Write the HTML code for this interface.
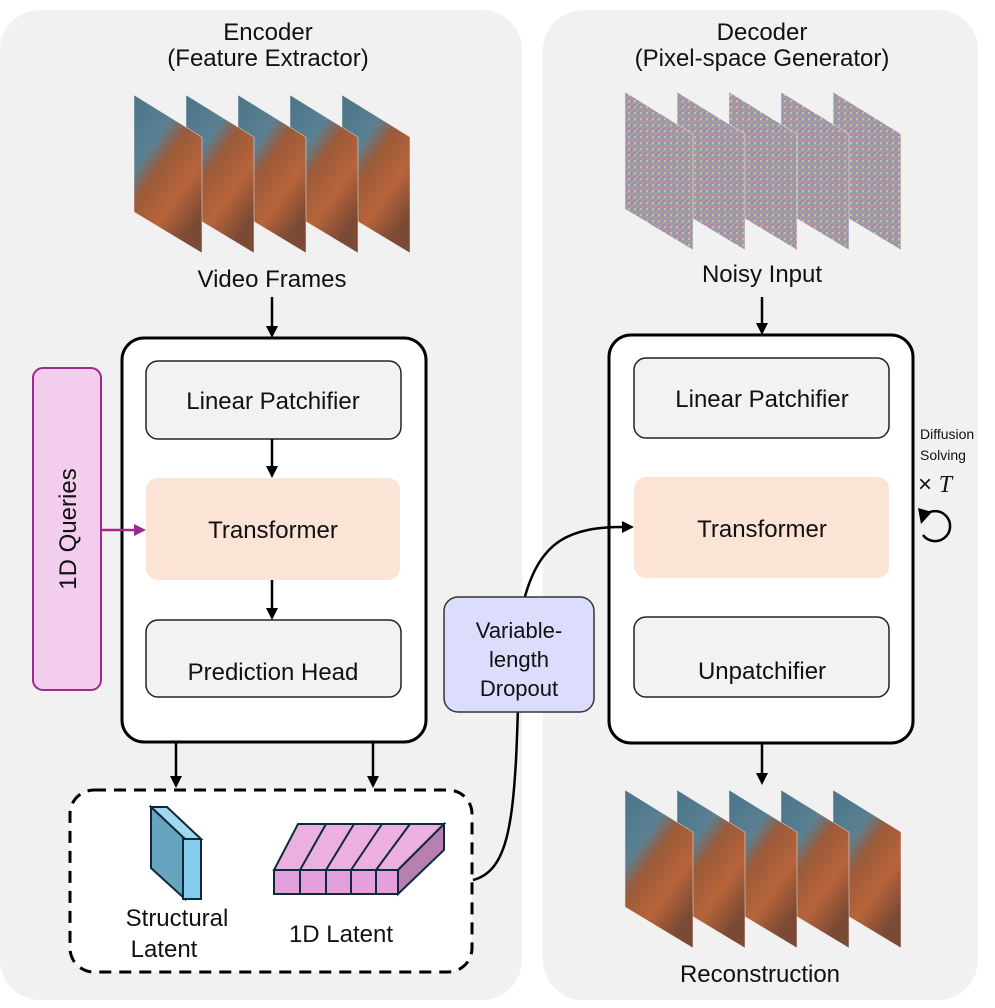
<!DOCTYPE html>
<html><head><meta charset="utf-8"><style>
html,body{margin:0;padding:0;background:#fff;}
svg{display:block;font-family:"Liberation Sans",sans-serif;}
</style></head><body>
<svg width="995" height="1008" viewBox="0 0 995 1008" xmlns="http://www.w3.org/2000/svg">
<defs>
<linearGradient id="vid" x1="0" y1="0" x2="0.6" y2="1">
<stop offset="0" stop-color="#4a7488"/><stop offset="0.35" stop-color="#5a8092"/><stop offset="0.5" stop-color="#9a5a3a"/><stop offset="0.75" stop-color="#b8643a"/><stop offset="1" stop-color="#7a4a35"/></linearGradient>
<pattern id="noise" width="6" height="6" patternUnits="userSpaceOnUse">
<rect width="6" height="6" fill="#a89aa8"/><rect width="2" height="2" fill="#7fae86"/><rect x="3" y="2" width="2" height="2" fill="#c27aa0"/><rect x="1" y="4" width="2" height="2" fill="#8a8fc8"/><rect x="4" y="4" width="2" height="2" fill="#c8c090"/></pattern>
</defs>
<rect x="0" y="10" width="522" height="990" rx="40" fill="#f1f1f1"/>
<rect x="543" y="10" width="435" height="990" rx="40" fill="#f1f1f1"/>
<g font-size="24" text-anchor="middle" fill="#111">
<text x="268" y="40">Encoder</text><text x="268" y="66">(Feature Extractor)</text>
<text x="762" y="40">Decoder</text><text x="762" y="66">(Pixel-space Generator)</text>
<text x="272" y="287">Video Frames</text>
<text x="762" y="282">Noisy Input</text>
<text x="760" y="982">Reconstruction</text>
</g>
<g stroke="#eee" stroke-width="0.5">
<polygon points="342,95 410,137 410,253 342,212" fill="url(#vid)"/>
<polygon points="290,95 358,137 358,253 290,212" fill="url(#vid)"/>
<polygon points="238,95 306,137 306,253 238,212" fill="url(#vid)"/>
<polygon points="186,95 254,137 254,253 186,212" fill="url(#vid)"/>
<polygon points="134,95 202,137 202,253 134,212" fill="url(#vid)"/>
<polygon points="833,92 901,134 901,250 833,209" fill="url(#noise)"/>
<polygon points="781,92 849,134 849,250 781,209" fill="url(#noise)"/>
<polygon points="729,92 797,134 797,250 729,209" fill="url(#noise)"/>
<polygon points="677,92 745,134 745,250 677,209" fill="url(#noise)"/>
<polygon points="625,92 693,134 693,250 625,209" fill="url(#noise)"/>
<polygon points="833,790 901,832 901,948 833,907" fill="url(#vid)"/>
<polygon points="781,790 849,832 849,948 781,907" fill="url(#vid)"/>
<polygon points="729,790 797,832 797,948 729,907" fill="url(#vid)"/>
<polygon points="677,790 745,832 745,948 677,907" fill="url(#vid)"/>
<polygon points="625,790 693,832 693,948 625,907" fill="url(#vid)"/>
</g>
<!-- encoder -->
<rect x="122" y="338" width="304" height="404" rx="22" fill="#fff" stroke="#000" stroke-width="3"/>
<rect x="146" y="361" width="255" height="78" rx="12" fill="#f2f2f2" stroke="#222" stroke-width="1.5"/>
<rect x="146" y="478" width="254" height="102" rx="12" fill="#fbe3d5"/>
<rect x="146" y="620" width="255" height="77" rx="12" fill="#f2f2f2" stroke="#222" stroke-width="1.5"/>
<rect x="33" y="368" width="68" height="322" rx="10" fill="#f3cdee" stroke="#a0288f" stroke-width="2"/>
<g font-size="24" text-anchor="middle" fill="#111">
<text x="273" y="409">Linear Patchifier</text>
<text x="273" y="538">Transformer</text>
<text x="273" y="680">Prediction Head</text>
<text transform="translate(76,529) rotate(-90)">1D Queries</text>
</g>
<line x1="101" y1="530" x2="136" y2="530" stroke="#a0288f" stroke-width="2.5"/>
<path d="M134,524 L146,530 L134,536 z" fill="#a0288f"/>
<g stroke="#000" stroke-width="2.5">
<line x1="272" y1="297" x2="272" y2="328"/>
<line x1="272" y1="439" x2="272" y2="468"/>
<line x1="272" y1="580" x2="272" y2="610"/>
<line x1="176" y1="742" x2="176" y2="778"/>
<line x1="373" y1="742" x2="373" y2="778"/>
<line x1="762" y1="297" x2="762" y2="325"/>
<line x1="762" y1="438" x2="762" y2="467"/>
<line x1="762" y1="578" x2="762" y2="607"/>
<line x1="762" y1="743" x2="762" y2="775"/>
</g>
<g fill="#000">
<path d="M266,326 L278,326 L272,338 z"/>
<path d="M266,466 L278,466 L272,478 z"/>
<path d="M266,608 L278,608 L272,620 z"/>
<path d="M170,776 L182,776 L176,788 z"/>
<path d="M367,776 L379,776 L373,788 z"/>
<path d="M756,323 L768,323 L762,335 z"/>
<path d="M756,465 L768,465 L762,477 z"/>
<path d="M756,605 L768,605 L762,617 z"/>
<path d="M756,773 L768,773 L762,785 z"/>
</g>
<rect x="70" y="790" width="402" height="182" rx="24" fill="#fff" stroke="#000" stroke-width="3" stroke-dasharray="12,8"/>
<g stroke="#0e2a3a" stroke-width="2">
<polygon points="151,807 167,807 201,839 185,839" fill="#9fd8f0"/>
<polygon points="151,807 185,839 185,899 151,868" fill="#67a4c0"/>
<rect x="183" y="839" width="18" height="60" fill="#85cdec"/>
<polygon points="298,824 444,824 398,870 274,870" fill="#ebb0e0"/>
<polygon points="398,870 444,824 444,850 398,894" fill="#b880b0"/>
<rect x="274" y="870" width="124" height="24" fill="#e4a0dc"/>
<line x1="300" y1="870" x2="300" y2="894"/><line x1="326" y1="870" x2="326" y2="894"/><line x1="351" y1="870" x2="351" y2="894"/><line x1="376" y1="870" x2="376" y2="894"/>
<line x1="300" y1="870" x2="326" y2="824"/><line x1="326" y1="870" x2="354" y2="824"/><line x1="351" y1="870" x2="382" y2="824"/><line x1="376" y1="870" x2="410" y2="824"/>
</g>
<g font-size="24" text-anchor="middle" fill="#111">
<text x="177" y="926">Structural</text><text x="164" y="957">Latent</text>
<text x="341" y="942">1D Latent</text>
</g>
<!-- decoder -->
<rect x="609" y="335" width="304" height="408" rx="22" fill="#fff" stroke="#000" stroke-width="3"/>
<rect x="634" y="358" width="255" height="80" rx="12" fill="#f2f2f2" stroke="#222" stroke-width="1.5"/>
<rect x="634" y="477" width="255" height="101" rx="12" fill="#fbe3d5"/>
<rect x="634" y="617" width="255" height="80" rx="12" fill="#f2f2f2" stroke="#222" stroke-width="1.5"/>
<g font-size="24" text-anchor="middle" fill="#111">
<text x="762" y="407">Linear Patchifier</text>
<text x="762" y="537">Transformer</text>
<text x="762" y="679">Unpatchifier</text>
</g>
<!-- curve -->
<path d="M473,880 C505,872 512,830 516,760 C520,680 518,620 524,600 C540,540 570,527 624,527" fill="none" stroke="#000" stroke-width="2.5"/>
<path d="M622,521 L634,527 L622,533 z" fill="#000"/>
<rect x="444" y="597" width="150" height="115" rx="14" fill="#dcdcfc" stroke="#333" stroke-width="1.5"/>
<g font-size="22" text-anchor="middle" fill="#111">
<text x="519" y="638">Variable-</text><text x="519" y="667">length</text><text x="519" y="696">Dropout</text>
</g>
<g font-size="14" fill="#111">
<text x="920" y="439">Diffusion</text><text x="920" y="460">Solving</text>
</g>
<text x="918" y="492" font-size="24" fill="#111">× <tspan font-family="Liberation Serif" font-style="italic">T</tspan></text>
<path d="M924,516 A15,15 0 1,1 923,535" fill="none" stroke="#000" stroke-width="2.5"/>
<path d="M918,508 L932,512 L921,524 z" fill="#000"/>
</svg>
</body></html>
